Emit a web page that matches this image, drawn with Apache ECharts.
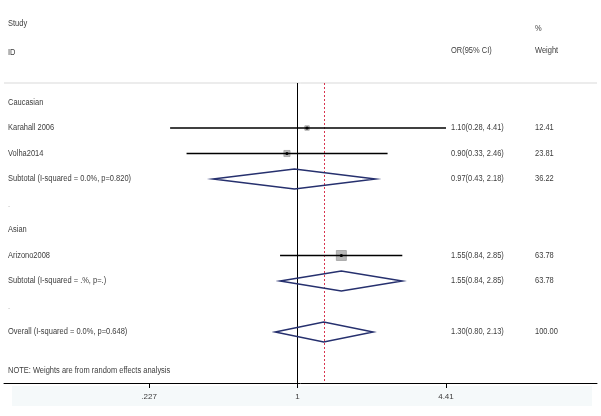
<!DOCTYPE html>
<html>
<head>
<meta charset="utf-8">
<script src="https://cdn.jsdelivr.net/npm/echarts@6/dist/echarts.min.js"></script>
<style>
  html, body { margin: 0; padding: 0; background: #fff; }
  #forest { width: 601px; height: 416px; }
</style>
</head>
<body>
<div id="forest"></div>
<script>
// studies
const studyNames = ['Karahall 2006', 'Volha2014', 'Arizono2008'];
const studyOR = [1.10, 0.90, 1.55];
const studyLow = [0.28, 0.33, 0.84];
const studyHigh = [4.41, 2.46, 2.85];
const studyWeight = [12.41, 23.81, 63.78];
const studyRow = [1, 2, 6];

// subtotals / overall
const poolNames = ['Subtotal (I-squared = 0.0%, p=0.820)', 'Subtotal (I-squared = .%, p=.)', 'Overall (I-squared = 0.0%, p=0.648)'];
const poolOR = [0.97, 1.55, 1.30];
const poolLow = [0.43, 0.84, 0.80];
const poolHigh = [2.18, 2.85, 2.13];
const poolWeight = [36.22, 63.78, 100.00];
const poolRow = [3, 7, 9];

// group headings and other text rows
const textRowLabels = ['Caucasian', '.', 'Asian', '.', 'NOTE: Weights are from random effects analysis'];
const textRow = [0, 4, 5, 8, 10.5];

// reference lines: no effect (1) and overall estimate
const refLines = [1, 1.30];

const tickValues = [0.227, 1, 4.41];
const tickLabels = ['.227', '1', '4.41'];

const FONT = 'Liberation Sans, Arial, sans-serif';
const FS = 8.5;
const TXT = '#3c3c3c';
const COL_NAME = 8, COL_OR = 451, COL_W = 535;

const fmt = (v) => v.toFixed(2);
const ciText = (o, l, h) => fmt(o) + '(' + fmt(l) + ', ' + fmt(h) + ')';
const crisp = (v) => Math.round(v) + 0.5;
// stata text is a bit narrow, so squeeze it sideways
const txt = (x, y, s, color) => ({
    type: 'text',
    x: x,
    y: y,
    scaleX: 0.88,
    style: { text: s, x: 0, y: 0, fill: color || TXT, fontSize: FS, fontFamily: FONT, align: 'left', verticalAlign: 'middle' }
});

const chart = echarts.init(document.getElementById('forest'));

const option = {
    animation: false,
    backgroundColor: '#fff',
    grid: { left: 4, right: 4, top: 83, bottom: 33 },
    xAxis: {
        type: 'value',
        position: 'bottom',
        min: -2.933,
        max: 2.993,
        axisLine: { onZero: false, lineStyle: { color: '#000', width: 1 } },
        axisTick: { customValues: tickValues.map(Math.log), length: 5, lineStyle: { color: '#000' } },
        axisLabel: {
            customValues: tickValues.map(Math.log),
            margin: 10,
            color: TXT,
            fontSize: 8,
            fontFamily: FONT,
            formatter: (v) => {
                const i = tickValues.findIndex(t => Math.abs(Math.log(t) - v) < 1e-6);
                return i >= 0 ? tickLabels[i] : '';
            }
        },
        splitLine: { show: false }
    },
    yAxis: { type: 'value', min: -0.765, max: 11, inverse: true, show: false },
    graphic: [
        { type: 'rect', z: -1, shape: { x: 12, y: 386, width: 580, height: 20 }, style: { fill: '#f5f9fa' } },
        { type: 'line', shape: { x1: 4, y1: 83, x2: 597, y2: 83 }, style: { stroke: '#d9d9d9', lineWidth: 1 } },
        txt(COL_NAME, 24, 'Study'),
        txt(COL_NAME, 53, 'ID'),
        txt(COL_W, 29, '%'),
        txt(COL_OR, 51, 'OR(95% CI)'),
        txt(COL_W, 51, 'Weight')
    ],
    series: [
        {
            type: 'custom',
            name: 'refLines',
            silent: true,
            data: refLines.map(v => [Math.log(v), 0]),
            renderItem: (params, api) => {
                const cs = params.coordSys;
                const x = crisp(api.coord([api.value(0), 0])[0]);
                const first = params.dataIndex === 0;
                return {
                    type: 'line',
                    shape: { x1: x, y1: cs.y, x2: x, y2: cs.y + cs.height },
                    style: first
                        ? { stroke: '#000', lineWidth: 1 }
                        : { stroke: '#d8344e', lineWidth: 1, lineDash: [2, 2] }
                };
            }
        },
        {
            type: 'custom',
            name: 'studies',
            data: studyNames.map((n, i) => [Math.log(studyLow[i]), Math.log(studyHigh[i]), Math.log(studyOR[i]), studyRow[i], studyWeight[i]]),
            renderItem: (params, api) => {
                const i = params.dataIndex;
                const lo = api.coord([api.value(0), api.value(3)]);
                const hi = api.coord([api.value(1), api.value(3)]);
                const pt = api.coord([api.value(2), api.value(3)]);
                const side = 1.25 * Math.sqrt(api.value(4));
                return {
                    type: 'group',
                    children: [
                        { type: 'rect', shape: { x: pt[0] - side / 2, y: pt[1] - side / 2, width: side, height: side }, style: { fill: '#b9b9b9', stroke: '#a0a0a0', lineWidth: 0.8 } },
                        { type: 'line', shape: { x1: lo[0], y1: lo[1], x2: hi[0], y2: hi[1] }, style: { stroke: '#000', lineWidth: 1.3 } },
                        { type: 'circle', shape: { cx: pt[0], cy: pt[1], r: 1.6 }, style: { fill: '#000' } },
                        txt(COL_NAME, pt[1], studyNames[i]),
                        txt(COL_OR, pt[1], ciText(studyOR[i], studyLow[i], studyHigh[i])),
                        txt(COL_W, pt[1], fmt(studyWeight[i]))
                    ]
                };
            }
        },
        {
            type: 'custom',
            name: 'pooled',
            data: poolNames.map((n, i) => [Math.log(poolLow[i]), Math.log(poolHigh[i]), Math.log(poolOR[i]), poolRow[i]]),
            renderItem: (params, api) => {
                const i = params.dataIndex;
                const lo = api.coord([api.value(0), api.value(3)]);
                const hi = api.coord([api.value(1), api.value(3)]);
                const pt = api.coord([api.value(2), api.value(3)]);
                const h = 10;
                return {
                    type: 'group',
                    children: [
                        {
                            type: 'polygon',
                            shape: { points: [[lo[0], lo[1]], [pt[0], pt[1] - h], [hi[0], hi[1]], [pt[0], pt[1] + h]] },
                            style: { fill: 'none', stroke: '#26306e', lineWidth: 1.5 }
                        },
                        txt(COL_NAME, pt[1], poolNames[i]),
                        txt(COL_OR, pt[1], ciText(poolOR[i], poolLow[i], poolHigh[i])),
                        txt(COL_W, pt[1], fmt(poolWeight[i]))
                    ]
                };
            }
        },
        {
            type: 'custom',
            name: 'textRows',
            data: textRowLabels.map((s, i) => [0, textRow[i]]),
            renderItem: (params, api) => {
                const i = params.dataIndex;
                const p = api.coord([0, api.value(1)]);
                const s = textRowLabels[i];
                return txt(COL_NAME, p[1], s, s === '.' ? '#b0b0b0' : TXT);
            }
        }
    ]
};

chart.setOption(option);
</script>
</body>
</html>
